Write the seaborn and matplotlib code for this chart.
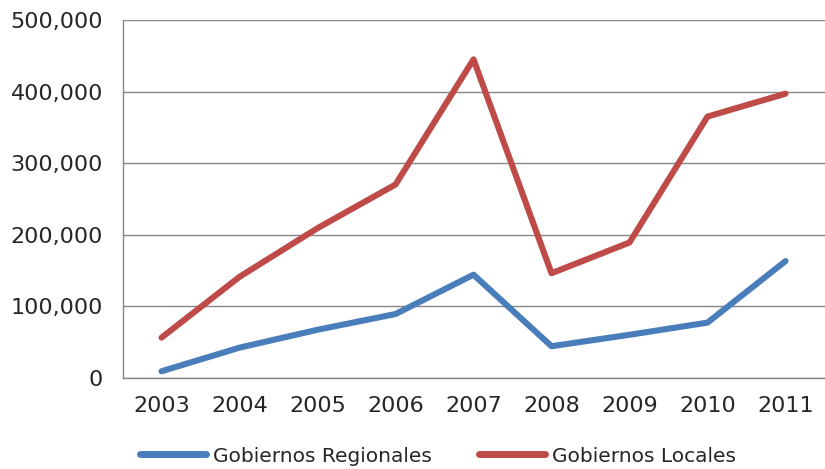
import matplotlib
matplotlib.use("Agg")
import matplotlib.pyplot as plt
import seaborn as sns
import pandas as pd
from matplotlib.ticker import FuncFormatter

years = ["2003", "2004", "2005", "2006", "2007", "2008", "2009", "2010", "2011"]
regionales = [9000, 42000, 67000, 89000, 144000, 44000, 60000, 77000, 163000]
locales = [56000, 141000, 209000, 270000, 445000, 146000, 189000, 365000, 397000]
series_names = ["Gobiernos Regionales", "Gobiernos Locales"]
yticks = [0, 100000, 200000, 300000, 400000, 500000]

df = pd.DataFrame({
    "year": years * 2,
    "x": list(range(len(years))) * 2,
    "value": regionales + locales,
    "serie": [series_names[0]] * len(years) + [series_names[1]] * len(years),
})

sns.set_style("white")
plt.rcParams["font.family"] = ["DejaVu Sans"]

fig = plt.figure(figsize=(8.25, 4.69), dpi=100)
ax = fig.add_axes([122.5 / 825, 1 - 377.7 / 469, (824.5 - 122.5) / 825, (377.7 - 20) / 469])

palette = {series_names[0]: "#4A7EBB", series_names[1]: "#BE4B48"}
sns.lineplot(data=df, x="x", y="value", hue="serie", palette=palette, ax=ax,
             linewidth=4.4, legend=True, sort=False)
for ln in ax.lines:
    ln.set_solid_capstyle("round")
    ln.set_solid_joinstyle("round")
    ln.set_zorder(3)

ax.set_xlim(-0.5, len(years) - 0.5)
ax.set_ylim(0, 500000)
ax.set_yticks(yticks)
ax.yaxis.set_major_formatter(FuncFormatter(lambda v, p: f"{int(v):,}"))
ax.set_xticks(range(len(years)))
ax.set_xticklabels(years)
ax.grid(axis="y", color="#868686", linewidth=1.0)
ax.set_axisbelow(True)
for s in ["top", "right"]:
    ax.spines[s].set_visible(False)
for s in ["left", "bottom"]:
    ax.spines[s].set_color("#868686")
    ax.spines[s].set_linewidth(1.0)
ax.tick_params(axis="both", length=0, labelsize=16, colors="#262626")
ax.tick_params(axis="x", pad=13)
ax.tick_params(axis="y", pad=14)
ax.set_xlabel("")
ax.set_ylabel("")

handles, labels = ax.get_legend_handles_labels()
ax.legend_.remove()
leg = fig.legend(handles, labels, loc="center", bbox_to_anchor=(438 / 825, 13 / 469),
                 ncol=2, frameon=False, fontsize=14.5, handlelength=3.3,
                 handletextpad=0.35, columnspacing=2.3, labelcolor="#262626")
for h in leg.legend_handles:
    h.set_linewidth(5)

fig.savefig("out.png", dpi=100)
